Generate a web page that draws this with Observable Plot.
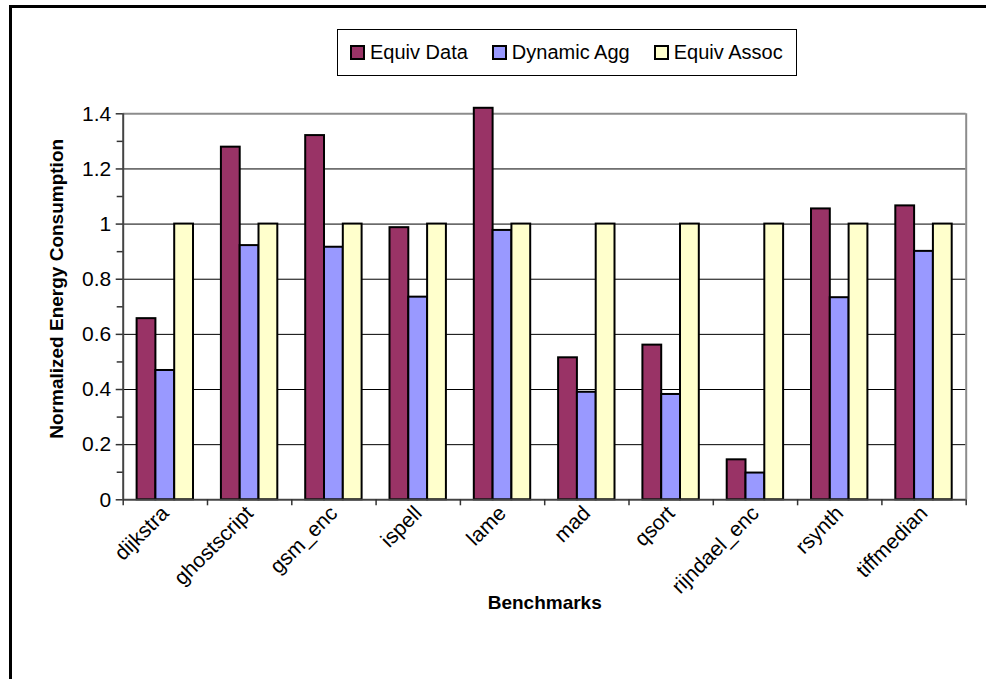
<!DOCTYPE html>
<html>
<head>
<meta charset="utf-8">
<script src="https://cdn.jsdelivr.net/npm/d3@7"></script>
<script src="https://cdn.jsdelivr.net/npm/@observablehq/plot@0.6"></script>
<style>
  html, body { margin: 0; padding: 0; background: #fff; }
  #chart { position: relative; width: 986px; height: 679px; overflow: hidden;
           font-family: "Liberation Sans", Arial, sans-serif; }
  #border { position: absolute; left: 9px; top: 5px; right: -10px; bottom: -10px;
            border-left: 3px solid #000; border-top: 3px solid #000; pointer-events: none; }
  #legend { position: absolute; left: 337px; top: 29px; width: 460px; height: 47px;
            border: 1.5px solid #000; background: #fff; box-sizing: border-box;
            display: flex; align-items: center; padding-left: 12px; font-size: 20px; color: #000; }
  #legend .item { display: flex; align-items: center; margin-right: 24px; white-space: nowrap; }
  #legend .sw { width: 11px; height: 11px; border: 2px solid #000; margin-right: 5px; }
  #plot { position: absolute; left: 0; top: 0; }
</style>
</head>
<body>
<div id="chart">
  <div id="plot"></div>
  <div id="legend"></div>
  <div id="border"></div>
</div>
<script>
// Benchmarks and normalized energy per configuration
const benchmarks = ["dijkstra", "ghostscript", "gsm_enc", "ispell", "lame", "mad", "qsort", "rijndael_enc", "rsynth", "tiffmedian"];
const seriesNames = ["Equiv Data", "Dynamic Agg", "Equiv Assoc"];
const equivData  = [0.657, 1.279, 1.321, 0.987, 1.42, 0.515, 0.561, 0.145, 1.055, 1.066];
const dynamicAgg = [0.469, 0.922, 0.916, 0.735, 0.977, 0.390, 0.382, 0.097, 0.733, 0.901];
const equivAssoc = [1, 1, 1, 1, 1, 1, 1, 1, 1, 1];
const seriesColors = ["#993366", "#9999ff", "#ffffcc"];
const yMajorTicks = [0, 0.2, 0.4, 0.6, 0.8, 1, 1.2, 1.4];
const yMinorTicks = [0.1, 0.3, 0.5, 0.7, 0.9, 1.1, 1.3];

// Long table: one row per benchmark × configuration
const seriesValues = [equivData, dynamicAgg, equivAssoc];
const rows = [];
benchmarks.forEach((b, i) => {
  seriesNames.forEach((s, k) => {
    rows.push({bench: b, i, series: s, k, value: seriesValues[k][i]});
  });
});

// Each category occupies one unit on x; bars sit side by side in the middle
const groupStart = 0.165, barWidth = 0.223;
const font = "'Liberation Sans', Arial, sans-serif";

const plot = Plot.plot({
  width: 986,
  height: 679,
  marginLeft: 122.7,
  marginRight: 20.3,
  marginTop: 113.3,
  marginBottom: 179.7,
  style: {fontFamily: font, fontSize: "20px", color: "#000", background: "transparent", overflow: "visible"},
  x: {domain: [0, benchmarks.length]},
  y: {domain: [0, 1.4]},
  color: {domain: seriesNames, range: seriesColors},
  marks: [
    Plot.gridY(yMajorTicks.filter(t => t > 0 && t < 1.4), {stroke: "#000", strokeOpacity: 1, strokeWidth: 1}),
    Plot.ruleY([1.4], {stroke: "#8c8c8c", strokeWidth: 2}),
    Plot.ruleX([benchmarks.length], {stroke: "#8c8c8c", strokeWidth: 2}),
    Plot.rect(rows, {
      x1: d => d.i + groupStart + d.k * barWidth,
      x2: d => d.i + groupStart + (d.k + 1) * barWidth,
      y1: () => 0,
      y2: "value",
      fill: "series",
      stroke: "#000",
      strokeWidth: 2
    }),
    Plot.ruleX([0], {stroke: "#444", strokeWidth: 2}),
    Plot.ruleY([0], {stroke: "#444", strokeWidth: 2}),
    Plot.axisY({ticks: yMajorTicks, tickFormat: d => String(d), tickSize: 7, tickPadding: 5, stroke: "#333", strokeWidth: 1.5, fontSize: 21, fontFamily: font, label: null}),
    Plot.axisY({ticks: yMinorTicks, tickFormat: () => "", tickSize: 6, stroke: "#333", strokeWidth: 1.5, label: null}),
    Plot.axisX({ticks: d3.range(0, benchmarks.length + 1), tickFormat: () => "", tickSize: 6, stroke: "#333", strokeWidth: 1.5, label: null}),
    Plot.axisX({ticks: benchmarks.map((_, i) => i + 0.5), tickFormat: d => benchmarks[Math.floor(d)], tickSize: 0, tickPadding: 10, tickRotate: -45, fontSize: 21, fontFamily: font, label: null}),
    Plot.text(["Normalized Energy Consumption"], {frameAnchor: "left", textAnchor: "middle", rotate: -90, dx: -66, dy: -18, fontWeight: "bold", fontSize: 19}),
    Plot.text(["Benchmarks"], {frameAnchor: "bottom", dy: 109, fontWeight: "bold", fontSize: 19})
  ]
});
document.getElementById("plot").appendChild(plot);

// Legend above the plot area
const legend = d3.select("#legend");
seriesNames.forEach((s, k) => {
  const item = legend.append("div").attr("class", "item");
  item.append("div").attr("class", "sw").style("background", seriesColors[k]);
  item.append("span").text(s);
});
</script>
</body>
</html>
